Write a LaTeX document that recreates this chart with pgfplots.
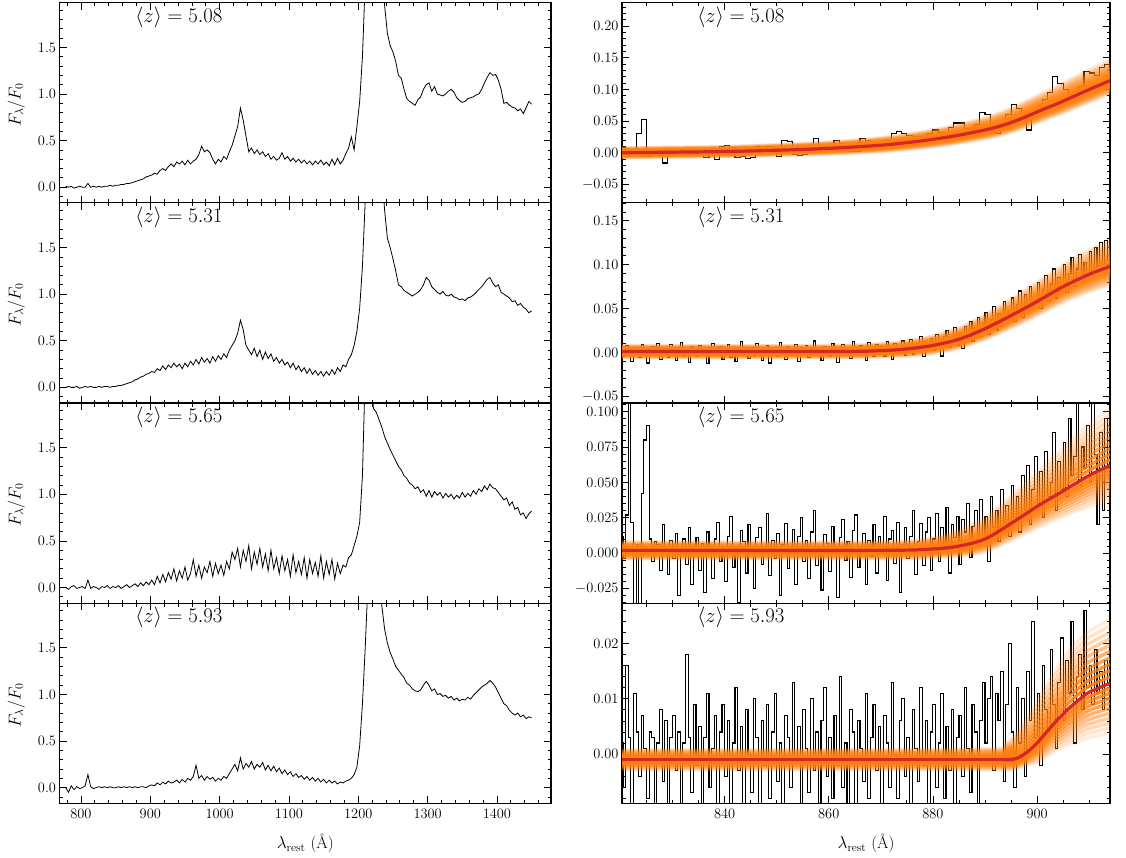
\documentclass[border=0pt]{standalone}
\usepackage{fontspec}
\usepackage{pgfplots}
\usepackage{pgfplotstable}
\pgfplotsset{compat=1.18}
\definecolor{fan}{RGB}{255,127,14}
\definecolor{fitred}{RGB}{214,39,40}

% ---------- left spectra: 4 A grid starting at 778 A ----------
\pgfplotstableread[row sep=\\]{y\\
0.01\\0.00\\0.01\\-0.01\\0.00\\0.01\\0.00\\0.00\\0.04\\0.00\\
0.01\\0.00\\0.01\\0.00\\0.01\\0.01\\0.02\\0.01\\0.02\\0.02\\
0.03\\0.03\\0.04\\0.04\\0.05\\0.06\\0.07\\0.08\\0.09\\0.11\\
0.12\\0.13\\0.15\\0.14\\0.18\\0.20\\0.18\\0.22\\0.25\\0.22\\
0.27\\0.25\\0.28\\0.24\\0.29\\0.25\\0.28\\0.30\\0.35\\0.44\\
0.38\\0.40\\0.37\\0.30\\0.25\\0.30\\0.27\\0.33\\0.30\\0.38\\
0.45\\0.55\\0.65\\0.85\\0.72\\0.55\\0.38\\0.42\\0.36\\0.40\\
0.35\\0.38\\0.33\\0.36\\0.30\\0.33\\0.29\\0.31\\0.37\\0.30\\
0.33\\0.28\\0.31\\0.27\\0.30\\0.26\\0.29\\0.25\\0.28\\0.24\\
0.28\\0.25\\0.29\\0.24\\0.27\\0.23\\0.30\\0.24\\0.31\\0.25\\
0.29\\0.36\\0.42\\0.54\\0.40\\0.65\\0.92\\1.40\\2.20\\2.60\\
2.80\\2.90\\2.80\\2.50\\2.20\\1.95\\1.65\\1.52\\1.45\\1.35\\
1.20\\1.17\\1.05\\0.95\\0.92\\0.90\\0.88\\0.94\\0.97\\1.05\\
1.10\\1.12\\1.03\\1.08\\1.00\\0.99\\0.98\\1.00\\1.03\\1.05\\
1.02\\0.96\\0.93\\0.91\\0.92\\0.95\\0.96\\0.97\\0.99\\1.00\\
1.05\\1.12\\1.18\\1.23\\1.20\\1.21\\1.15\\1.05\\0.90\\0.91\\
0.88\\0.86\\0.85\\0.82\\0.84\\0.79\\0.85\\0.92\\0.89\\
}\specA

\pgfplotstableread[row sep=\\]{y\\
0.00\\0.01\\0.00\\0.00\\0.01\\-0.01\\0.00\\0.01\\0.00\\0.01\\
0.00\\0.00\\0.01\\0.00\\0.01\\0.01\\0.00\\0.01\\0.01\\0.02\\
0.02\\0.03\\0.04\\0.05\\0.06\\0.08\\0.09\\0.11\\0.12\\0.14\\
0.15\\0.17\\0.16\\0.20\\0.18\\0.23\\0.19\\0.24\\0.21\\0.26\\
0.22\\0.25\\0.20\\0.26\\0.22\\0.28\\0.24\\0.30\\0.25\\0.32\\
0.27\\0.31\\0.26\\0.33\\0.28\\0.34\\0.30\\0.36\\0.32\\0.40\\
0.45\\0.50\\0.58\\0.72\\0.62\\0.45\\0.40\\0.35\\0.42\\0.33\\
0.40\\0.30\\0.38\\0.31\\0.36\\0.28\\0.32\\0.26\\0.30\\0.24\\
0.27\\0.21\\0.26\\0.19\\0.23\\0.17\\0.21\\0.15\\0.20\\0.14\\
0.18\\0.13\\0.17\\0.12\\0.17\\0.13\\0.19\\0.14\\0.21\\0.17\\
0.24\\0.22\\0.30\\0.35\\0.45\\0.60\\0.85\\1.30\\2.00\\2.60\\
2.90\\3.00\\2.90\\2.70\\2.30\\1.90\\1.60\\1.50\\1.38\\1.25\\
1.10\\1.08\\1.04\\1.02\\1.00\\0.98\\1.00\\1.02\\1.05\\1.10\\
1.18\\1.15\\1.08\\1.05\\1.02\\1.00\\1.03\\0.99\\0.98\\1.00\\
0.97\\0.96\\0.94\\0.95\\0.93\\0.96\\0.97\\0.99\\1.02\\1.05\\
1.08\\1.12\\1.16\\1.18\\1.12\\1.08\\1.10\\1.02\\1.00\\0.98\\
0.96\\0.92\\0.93\\0.88\\0.90\\0.86\\0.84\\0.80\\0.82\\
}\specB

\pgfplotstableread[row sep=\\]{y\\
0.00\\-0.02\\0.01\\0.02\\-0.01\\0.00\\0.01\\-0.01\\0.08\\-0.01\\
0.01\\0.00\\-0.02\\0.01\\0.00\\0.02\\-0.01\\0.01\\0.00\\0.02\\
-0.01\\0.01\\0.03\\0.00\\0.02\\0.04\\0.01\\0.05\\0.02\\0.06\\
0.03\\0.08\\0.03\\0.12\\0.05\\0.14\\0.06\\0.16\\0.09\\0.20\\
0.07\\0.18\\0.10\\0.22\\0.08\\0.15\\0.30\\0.12\\0.24\\0.10\\
0.22\\0.16\\0.28\\0.12\\0.26\\0.15\\0.24\\0.13\\0.28\\0.20\\
0.38\\0.30\\0.42\\0.22\\0.40\\0.28\\0.45\\0.20\\0.38\\0.25\\
0.42\\0.22\\0.36\\0.18\\0.40\\0.20\\0.32\\0.15\\0.34\\0.18\\
0.30\\0.12\\0.35\\0.16\\0.28\\0.14\\0.32\\0.10\\0.30\\0.15\\
0.27\\0.12\\0.34\\0.10\\0.28\\0.14\\0.30\\0.09\\0.26\\0.15\\
0.24\\0.22\\0.32\\0.35\\0.45\\0.55\\0.70\\1.20\\2.30\\2.60\\
2.20\\1.92\\1.88\\1.80\\1.72\\1.62\\1.55\\1.48\\1.42\\1.36\\
1.30\\1.26\\1.20\\1.17\\1.12\\1.10\\1.06\\1.08\\1.02\\1.05\\
0.98\\1.04\\0.97\\1.03\\0.99\\1.02\\0.96\\1.01\\0.97\\1.00\\
0.95\\0.99\\0.96\\1.02\\0.97\\1.01\\0.98\\1.04\\1.00\\1.06\\
1.03\\1.09\\1.05\\1.11\\1.07\\1.06\\1.02\\0.98\\0.94\\0.96\\
0.88\\0.92\\0.84\\0.86\\0.78\\0.80\\0.74\\0.79\\0.82\\
}\specC

\pgfplotstableread[row sep=\\]{y\\
0.00\\-0.05\\0.02\\-0.02\\0.01\\-0.01\\0.00\\0.02\\0.14\\0.01\\
-0.01\\0.00\\0.01\\0.00\\0.01\\0.00\\0.01\\0.00\\0.00\\0.01\\
0.00\\0.01\\0.00\\0.01\\0.00\\0.01\\0.00\\0.01\\0.01\\0.00\\
0.02\\0.03\\0.02\\0.05\\0.03\\0.06\\0.04\\0.07\\0.05\\0.06\\
0.08\\0.05\\0.09\\0.06\\0.10\\0.08\\0.12\\0.24\\0.10\\0.13\\
0.08\\0.12\\0.09\\0.11\\0.07\\0.10\\0.08\\0.12\\0.10\\0.15\\
0.20\\0.25\\0.18\\0.32\\0.20\\0.26\\0.22\\0.28\\0.20\\0.25\\
0.22\\0.27\\0.19\\0.24\\0.18\\0.23\\0.17\\0.21\\0.15\\0.19\\
0.14\\0.17\\0.12\\0.15\\0.11\\0.13\\0.09\\0.12\\0.08\\0.11\\
0.07\\0.10\\0.06\\0.09\\0.05\\0.08\\0.05\\0.07\\0.04\\0.06\\
0.05\\0.07\\0.08\\0.10\\0.14\\0.22\\0.45\\0.90\\1.50\\2.20\\
2.70\\2.90\\2.60\\2.30\\1.95\\1.70\\1.55\\1.45\\1.38\\1.30\\
1.26\\1.22\\1.18\\1.12\\1.10\\1.06\\1.04\\1.03\\1.05\\1.10\\
1.14\\1.10\\1.04\\1.06\\1.00\\1.01\\0.98\\0.99\\0.96\\0.98\\
0.94\\0.96\\0.93\\0.95\\0.94\\0.97\\0.95\\0.99\\1.02\\1.05\\
1.08\\1.10\\1.12\\1.15\\1.12\\1.08\\1.02\\0.96\\0.90\\0.88\\
0.83\\0.80\\0.78\\0.80\\0.76\\0.78\\0.74\\0.76\\0.75\\
}\specD

% ---------- right data: panel 1 on a 1 A grid from 820 A ----------
\pgfplotstableread[row sep=\\]{y\\
0.008\\-0.006\\-0.004\\0.030\\0.052\\-0.006\\0.000\\-0.004\\-0.016\\0.002\\
0.000\\0.005\\0.001\\0.002\\-0.002\\0.004\\-0.008\\0.002\\-0.010\\0.010\\
0.012\\0.008\\-0.008\\-0.006\\-0.009\\-0.008\\0.010\\0.004\\0.010\\0.008\\
-0.006\\0.020\\0.018\\-0.003\\-0.004\\-0.002\\0.000\\0.023\\0.012\\0.010\\
0.006\\0.020\\0.015\\0.003\\0.002\\0.002\\0.023\\0.020\\0.012\\0.015\\
0.018\\0.020\\0.030\\0.034\\0.030\\0.028\\0.026\\0.026\\0.022\\0.030\\
0.036\\0.032\\0.031\\0.040\\0.047\\0.047\\0.038\\0.032\\0.045\\0.063\\
0.060\\0.032\\0.030\\0.040\\0.060\\0.076\\0.070\\0.055\\0.036\\0.060\\
0.075\\0.084\\0.095\\0.120\\0.110\\0.100\\0.092\\0.097\\0.105\\0.128\\
0.126\\0.122\\0.134\\0.139\\0.136\\
}\datA

% ---------- right data: panels 2-4 on a 0.5 A grid from 820 A ----------
\pgfplotstableread[row sep=\\]{y\\
0.002\\-0.004\\0.008\\0.003\\-0.010\\0.006\\0.000\\-0.006\\0.009\\0.001\\
-0.012\\0.004\\0.007\\-0.003\\0.010\\-0.008\\0.002\\0.005\\-0.006\\0.009\\
0.001\\-0.009\\0.006\\0.011\\-0.004\\0.002\\-0.011\\0.007\\0.003\\-0.005\\
0.008\\-0.002\\0.004\\-0.013\\0.006\\0.010\\-0.003\\0.001\\0.007\\-0.008\\
0.003\\0.009\\-0.006\\0.002\\-0.010\\0.005\\0.012\\-0.002\\0.004\\-0.007\\
0.006\\-0.004\\0.010\\0.001\\-0.009\\0.003\\0.008\\-0.012\\0.005\\0.000\\
-0.005\\0.011\\0.004\\-0.008\\0.007\\0.002\\-0.003\\0.009\\-0.010\\0.006\\
0.001\\0.008\\-0.006\\0.004\\0.013\\-0.002\\0.005\\-0.009\\0.007\\0.002\\
-0.004\\0.010\\0.003\\-0.011\\0.006\\0.009\\-0.001\\0.004\\-0.007\\0.012\\
0.005\\-0.003\\0.008\\0.001\\-0.009\\0.011\\0.004\\-0.005\\0.009\\0.002\\
0.007\\-0.004\\0.012\\0.003\\-0.008\\0.010\\0.005\\0.000\\0.013\\-0.003\\
0.008\\0.015\\-0.002\\0.010\\0.004\\0.018\\-0.005\\0.012\\0.006\\0.016\\
0.002\\0.020\\0.010\\-0.004\\0.018\\0.025\\0.006\\0.014\\0.028\\0.008\\
0.022\\0.004\\0.030\\0.015\\0.035\\0.012\\0.028\\0.040\\0.018\\0.033\\
0.045\\0.020\\0.038\\0.052\\0.025\\0.044\\0.030\\0.058\\0.036\\0.048\\
0.062\\0.035\\0.055\\0.070\\0.040\\0.066\\0.048\\0.075\\0.052\\0.060\\
0.080\\0.050\\0.072\\0.088\\0.058\\0.078\\0.095\\0.062\\0.085\\0.070\\
0.100\\0.068\\0.090\\0.108\\0.075\\0.095\\0.112\\0.080\\0.102\\0.088\\
0.115\\0.090\\0.120\\0.098\\0.125\\0.100\\0.128\\0.105\\0.118\\
}\datB

\pgfplotstableread[row sep=\\]{y\\
0.012\\-0.004\\0.027\\0.130\\0.022\\-0.040\\0.006\\-0.040\\0.042\\0.080\\
0.090\\0.010\\-0.006\\0.008\\0.006\\-0.012\\0.020\\0.002\\-0.015\\0.009\\
-0.004\\0.014\\-0.030\\0.003\\0.010\\-0.008\\0.018\\-0.022\\0.005\\0.011\\
-0.012\\0.007\\-0.028\\0.015\\0.002\\-0.018\\0.010\\0.022\\-0.006\\0.004\\
-0.020\\0.012\\0.026\\-0.010\\0.003\\-0.035\\0.016\\0.008\\-0.014\\0.020\\
0.001\\-0.025\\0.011\\0.018\\-0.008\\0.005\\0.028\\-0.016\\0.009\\-0.004\\
0.014\\-0.030\\0.006\\0.021\\-0.011\\0.002\\0.017\\-0.022\\0.012\\0.025\\
-0.006\\0.009\\-0.018\\0.015\\0.030\\-0.009\\0.004\\-0.026\\0.013\\0.007\\
-0.013\\0.019\\0.003\\-0.031\\0.011\\0.024\\-0.005\\0.008\\-0.017\\0.016\\
0.027\\-0.010\\0.005\\0.014\\-0.022\\0.009\\-0.002\\0.020\\-0.014\\0.012\\
0.003\\0.026\\-0.019\\0.010\\0.016\\-0.007\\0.022\\-0.028\\0.006\\0.018\\
-0.004\\0.012\\0.030\\-0.015\\0.008\\0.021\\-0.009\\0.015\\0.025\\-0.012\\
0.010\\0.028\\-0.006\\0.018\\0.004\\0.032\\-0.014\\0.020\\0.011\\0.026\\
-0.008\\0.024\\0.015\\0.035\\-0.003\\0.019\\0.030\\0.005\\0.038\\0.012\\
0.026\\-0.006\\0.040\\0.018\\0.030\\0.008\\0.045\\0.022\\0.034\\0.012\\
0.048\\0.025\\0.040\\0.015\\0.055\\0.030\\0.062\\0.020\\0.045\\0.068\\
0.035\\0.058\\0.025\\0.072\\0.040\\0.050\\0.085\\0.030\\0.065\\0.045\\
0.078\\0.040\\0.095\\0.055\\0.068\\0.110\\0.048\\0.075\\0.060\\0.090\\
0.050\\0.115\\0.070\\0.020\\0.085\\0.030\\0.095\\0.060\\0.078\\
}\datC

\pgfplotstableread[row sep=\\]{y\\
0.002\\-0.006\\0.016\\0.003\\-0.009\\0.011\\0.004\\-0.004\\0.007\\0.001\\
-0.008\\0.004\\0.003\\-0.012\\0.002\\0.008\\-0.005\\0.006\\-0.010\\0.003\\
0.007\\-0.003\\0.004\\-0.011\\0.002\\0.018\\0.003\\-0.007\\0.009\\-0.002\\
0.005\\-0.010\\0.003\\0.011\\-0.006\\0.001\\0.007\\-0.012\\0.004\\0.009\\
-0.004\\0.006\\-0.009\\0.002\\0.012\\-0.003\\0.005\\-0.010\\0.008\\0.000\\
-0.007\\0.010\\0.003\\-0.011\\0.006\\-0.002\\0.009\\-0.008\\0.004\\0.011\\
-0.005\\0.002\\-0.012\\0.007\\0.003\\-0.006\\0.013\\-0.001\\0.005\\-0.009\\
0.008\\0.001\\-0.007\\0.010\\-0.003\\0.004\\-0.010\\0.006\\0.012\\-0.004\\
0.003\\-0.008\\0.007\\-0.002\\0.014\\-0.006\\0.002\\-0.011\\0.008\\0.004\\
-0.009\\0.006\\0.001\\-0.005\\0.011\\-0.008\\0.003\\0.009\\-0.003\\0.005\\
-0.010\\0.007\\0.002\\-0.006\\0.013\\0.000\\-0.008\\0.006\\0.010\\-0.004\\
0.003\\-0.009\\0.008\\0.001\\-0.005\\0.012\\-0.002\\0.006\\-0.010\\0.004\\
0.009\\-0.006\\0.002\\0.011\\-0.008\\0.005\\-0.003\\0.008\\-0.011\\0.003\\
0.007\\-0.004\\0.012\\0.001\\-0.007\\0.009\\0.004\\-0.010\\0.006\\0.013\\
0.002\\0.010\\0.014\\-0.003\\0.011\\0.006\\0.015\\-0.005\\0.009\\0.020\\
0.004\\-0.006\\0.012\\0.002\\0.010\\-0.004\\0.015\\0.006\\0.024\\0.003\\
0.011\\-0.002\\0.016\\0.008\\0.004\\0.019\\0.009\\0.001\\0.013\\0.021\\
0.006\\0.017\\0.011\\0.024\\0.002\\0.014\\0.018\\0.008\\0.026\\0.012\\
0.016\\0.009\\0.019\\0.011\\0.015\\0.008\\0.017\\0.013\\0.010\\
}\datD

% ---------- model fits: centre r, upper and lower spread of the samples ----------
\pgfplotstableread[row sep=\\]{x r wu wl\\
819.5 0.000 0.008 0.008\\ 830 0.001 0.008 0.008\\ 840 0.002 0.008 0.008\\
850 0.004 0.009 0.008\\ 860 0.007 0.010 0.009\\ 870 0.012 0.012 0.010\\
877 0.018 0.014 0.011\\ 883 0.025 0.016 0.012\\ 887 0.031 0.018 0.013\\
891 0.038 0.020 0.014\\ 894 0.045 0.022 0.015\\ 897 0.054 0.024 0.016\\
901 0.068 0.026 0.017\\ 904 0.078 0.028 0.018\\ 907 0.089 0.030 0.019\\
910 0.100 0.031 0.020\\ 914 0.114 0.032 0.021\\
}\modA
\pgfplotstableread[row sep=\\]{x r wu wl\\
819.5 0.001 0.007 0.007\\ 860 0.001 0.007 0.007\\ 870 0.002 0.008 0.007\\
875 0.004 0.009 0.008\\ 880 0.008 0.011 0.009\\ 885 0.015 0.013 0.010\\
890 0.027 0.016 0.012\\ 895 0.042 0.019 0.014\\ 900 0.058 0.022 0.016\\
905 0.075 0.025 0.018\\ 910 0.089 0.028 0.020\\ 914 0.098 0.030 0.021\\
}\modB
\pgfplotstableread[row sep=\\]{x r wu wl\\
819.5 0.002 0.006 0.006\\ 870 0.002 0.006 0.006\\ 880 0.003 0.008 0.006\\
885 0.005 0.011 0.007\\ 890 0.010 0.015 0.009\\ 895 0.021 0.019 0.012\\
900 0.033 0.024 0.015\\ 905 0.044 0.030 0.018\\ 910 0.055 0.036 0.022\\
914 0.062 0.040 0.025\\
}\modC
\pgfplotstableread[row sep=\\]{x r wu wl\\
819.5 -0.0010 0.0018 0.0018\\ 890 -0.0010 0.0020 0.0018\\ 894 -0.0010 0.0030 0.0018\\
896 -0.0008 0.0045 0.0018\\ 898 0.0003 0.0060 0.0022\\ 900 0.0020 0.0075 0.0035\\
902 0.0042 0.0085 0.0045\\ 904 0.0063 0.0095 0.0055\\ 906 0.0082 0.0102 0.0065\\
908 0.0098 0.0108 0.0075\\ 910 0.0112 0.0110 0.0082\\ 914 0.0128 0.0115 0.0090\\
}\modD

\pgfplotsset{
  base/.style={
    scale only axis, height=200.15pt, anchor=north west,
    axis line style={line width=1.1pt},
    every tick/.style={line width=0.8pt, black},
    major tick length=7pt, minor tick length=3.5pt,
    xtick pos=both, ytick pos=both, tick align=inside,
    scaled x ticks=false, scaled y ticks=false,
    tick label style={font=\fontsize{14.5}{17}\selectfont},
    label style={font=\fontsize{16.5}{19}\selectfont},
    xticklabel style={yshift=-2pt, /pgf/number format/1000 sep={}},
    xlabel style={at={(axis description cs:0.5,-0.2)}, anchor=center},
  },
  leftp/.style={base, width=491.5pt,
    xmin=769, xmax=1478, ymin=-0.168, ymax=1.98,
    xtick={700,800,...,1500}, minor x tick num=4,
    ytick={-0.5,0,0.5,1,1.5,2}, minor y tick num=4,
    yticklabel style={/pgf/number format/.cd, fixed, fixed zerofill, precision=1},
    ylabel={$F_\lambda/F_0$},
    ylabel style={at={(axis description cs:-0.088,0.49)}, anchor=center},
  },
  rightp/.style={base, width=488pt,
    xmin=820.3, xmax=914,
    xtick={800,820,...,920}, minor x tick num=3, minor y tick num=4,
  },
  nolab/.style={xticklabels={}},
  spec/.style={black, line width=0.8pt},
  steps/.style={const plot, black, line width=1.1pt},
}

% one pair of posterior-sample curves: r + f*wu and r - f*wl
\newcommand{\fp}[3]{%
  \addplot[fan, line width=3.5pt, opacity=#3, smooth] table[x=x, y expr=\thisrow{r}+#2*\thisrow{wu}] {#1};
  \addplot[fan, line width=3.5pt, opacity=#3, smooth] table[x=x, y expr=\thisrow{r}-#2*\thisrow{wl}] {#1};
}
\newcommand{\fan}[1]{%
  \fp{#1}{1}{0.15}\fp{#1}{0.9}{0.22}\fp{#1}{0.8}{0.3}\fp{#1}{0.7}{0.4}%
  \fp{#1}{0.6}{0.5}\fp{#1}{0.5}{0.6}\fp{#1}{0.4}{0.7}\fp{#1}{0.3}{0.8}%
  \fp{#1}{0.2}{0.85}\fp{#1}{0.1}{0.9}%
  \addplot[fitred, line width=3.2pt, smooth] table[x=x, y=r] {#1};
}
\newcommand{\zlab}[1]{\node[anchor=west, inner sep=0pt, font=\fontsize{21}{24}\selectfont]
  at (rel axis cs:0.154,0.928) {$\langle z\rangle = #1$};}

\begin{document}
\begin{tikzpicture}
\useasboundingbox (0pt,0pt) rectangle (1126pt,-857pt);

% ----- left column -----
\begin{axis}[leftp, nolab, at={(59.5pt,-2.7pt)}]
\addplot[spec] table[x expr=778+4*\coordindex, y=y] {\specA};
\zlab{5.08}
\end{axis}
\begin{axis}[leftp, nolab, at={(59.5pt,-202.85pt)}]
\addplot[spec] table[x expr=778+4*\coordindex, y=y] {\specB};
\zlab{5.31}
\end{axis}
\begin{axis}[leftp, nolab, at={(59.5pt,-403pt)}]
\addplot[spec] table[x expr=778+4*\coordindex, y=y] {\specC};
\zlab{5.65}
\end{axis}
\begin{axis}[leftp, at={(59.5pt,-603.15pt)}, xlabel={$\lambda_{\mathrm{rest}}$ (\AA)}]
\addplot[spec] table[x expr=778+4*\coordindex, y=y] {\specD};
\zlab{5.93}
\end{axis}

% ----- right column -----
\begin{axis}[rightp, nolab, at={(622pt,-2.7pt)},
  ymin=-0.079, ymax=0.237, ytick={-0.1,-0.05,0,0.05,0.1,0.15,0.2,0.25},
  yticklabel style={/pgf/number format/.cd, fixed, fixed zerofill, precision=2}]
\addplot[steps] table[x expr=820+\coordindex, y=y] {\datA};
\fan{\modA}
\zlab{5.08}
\end{axis}
\begin{axis}[rightp, nolab, at={(622pt,-202.85pt)},
  ymin=-0.0576, ymax=0.1704, ytick={-0.1,-0.05,0,0.05,0.1,0.15,0.2},
  yticklabel style={/pgf/number format/.cd, fixed, fixed zerofill, precision=2}]
\addplot[steps] table[x expr=820+0.5*\coordindex, y=y] {\datB};
\fan{\modB}
\zlab{5.31}
\end{axis}
\begin{axis}[rightp, nolab, at={(622pt,-403pt)},
  ymin=-0.0353, ymax=0.1061, ytick={-0.05,-0.025,0,0.025,0.05,0.075,0.1,0.125},
  yticklabel style={/pgf/number format/.cd, fixed, fixed zerofill, precision=3}]
\addplot[steps] table[x expr=820+0.5*\coordindex, y=y] {\datC};
\fan{\modC}
\zlab{5.65}
\end{axis}
\begin{axis}[rightp, at={(622pt,-603.15pt)}, xlabel={$\lambda_{\mathrm{rest}}$ (\AA)},
  ymin=-0.0089, ymax=0.0273, ytick={-0.01,0,0.01,0.02,0.03},
  yticklabel style={/pgf/number format/.cd, fixed, fixed zerofill, precision=2}]
\addplot[steps] table[x expr=820+0.5*\coordindex, y=y] {\datD};
\fan{\modD}
\zlab{5.93}
\end{axis}
\end{tikzpicture}
\end{document}
